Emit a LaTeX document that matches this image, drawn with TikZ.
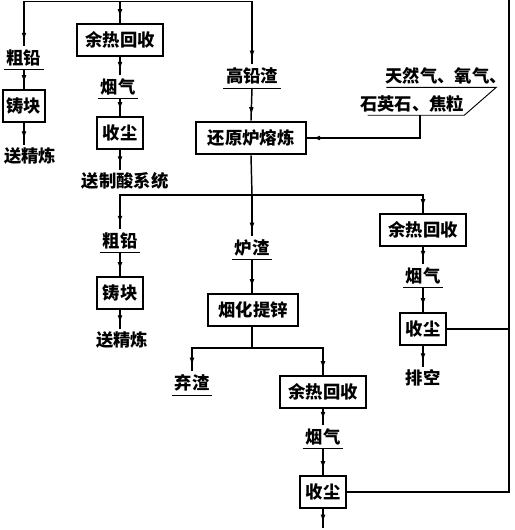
\documentclass[tikz,border=0pt]{standalone}
\usepackage{fontspec}
\setmainfont{Noto Sans CJK SC}
\usetikzlibrary{arrows.meta, positioning, decorations.markings}

\begin{document}
\begin{tikzpicture}[
    x=0.75pt, y=-0.75pt,
    font=\fontsize{13}{15}\selectfont\bfseries,
    box/.style={rectangle, draw, line width=1.7pt, minimum height=24.5pt, inner xsep=3pt, inner ysep=2pt},
    mat/.style={rectangle, inner xsep=2pt, inner ysep=2.5pt, append after command={(\tikzlastnode.south west) edge[draw, line width=0.7pt] (\tikzlastnode.south east)}},
    txt/.style={rectangle, inner xsep=0pt, inner ysep=2pt},
    flow/.style={line width=1.1pt, postaction={decorate}, decoration={markings, mark=at position -4pt with {\arrow{Latex[length=6pt,width=3.6pt]}}}},
    conn/.style={line width=1.1pt}
]
\useasboundingbox (0,0) rectangle (514,530);

% === Feed from above ===
\coordinate (feed) at (120,1.5);

% === Left branch: crude lead and off-gas ===
\node[mat] (cuA) at (24,58) {粗铅};
\node[box, minimum width=31.5pt] (zhuA) at (24,106) {铸块};
\node[txt] (jlA) at (30,156) {送精炼};
\node[box, minimum width=64pt] (yr1) at (120,40) {余热回收};
\node[mat] (yq1) at (118,87) {烟气};
\node[box, minimum width=34.5pt] (sc1) at (120,133) {收尘};
\node[txt] (zs) at (125,181) {送制酸系统};

% === Reduction furnace ===
\node[mat] (gqz) at (252,76) {高铅渣};
\node[box, minimum width=82pt] (hy) at (251,138) {还原炉熔炼};
\node[txt] (in1) at (446,76) {天然气、氧气、};
\node[txt] (in2) at (412,104) {石英石、焦粒};
\coordinate (sp1) at (252,195);

% === Products of reduction ===
\node[mat] (cuB) at (120,241) {粗铅};
\node[box, minimum width=34.5pt] (zhuB) at (120,293) {铸块};
\node[txt] (jlB) at (122,340) {送精炼};
\node[mat] (lz) at (252,248) {炉渣};
\node[box, minimum width=67.5pt] (yh) at (253,310) {烟化提锌};
\coordinate (sp2) at (252,348);
\node[box, minimum width=64pt] (yr2) at (423,230) {余热回收};
\node[mat] (yq2) at (423,276) {烟气};
\node[box, minimum width=34.5pt] (sc2) at (423,329) {收尘};
\node[txt] (pk) at (423,378) {排空};

% === Fuming ===
\node[mat] (qz) at (192,383) {弃渣};
\node[box, minimum width=64pt] (yr3) at (323,392) {余热回收};
\node[mat] (yq3) at (323,437) {烟气};
\node[box, minimum width=34.5pt] (sc3) at (323,492) {收尘};
\coordinate (out3) at (323,528);
\coordinate (rtop) at (509,0);

% === Arrows ===
% Feed to the three streams
\draw[flow] (feed) -| (cuA.north);
\draw[flow] (feed) -- (yr1.north);
\draw[flow] (feed) -| (gqz.north);

% Left column
\draw[flow] (cuA.south) -- (zhuA.north);
\draw[flow] (zhuA.south) -- (zhuA.south |- jlA.north);
\draw[flow] (yr1.south) -- (yr1.south |- yq1.north);
\draw[flow] (sc1.north |- yq1.south) -- (sc1.north);
\draw[flow] (sc1.south) -- (sc1.south |- zs.north);

% Into the reduction furnace
\draw[flow] (gqz.south) -- (hy.north);
\draw[line width=0.7pt] ([xshift=1pt]in1.south west) -- ([xshift=-8pt]in1.south east)
    -- (in2.south east) -- ([xshift=6pt]in2.south west);
\draw[flow] ([xshift=6pt]in2.south) |- (hy.east);

% Reduction furnace outputs
\draw[conn] (hy.south) -- (sp1);
\draw[flow] (sp1) -- (lz.north);
\draw[flow] (sp1) -| (cuB.north);
\draw[flow] (sp1) -| (yr2.north);
\draw[flow] (cuB.south) -- (zhuB.north);
\draw[flow] (zhuB.south) -- (zhuB.south |- jlB.north);
\draw[flow] (yr2.south) -- (yq2.north);
\draw[flow] (yq2.south) -- (sc2.north);
\draw[flow] (sc2.south) -- (pk.north);

% Fuming outputs
\draw[flow] (lz.south) -- (yh.north -| lz.south);
\draw[conn] (yh.south -| sp2) -- (sp2);
\draw[flow] (sp2) -| (qz.north);
\draw[flow] (sp2) -| (yr3.north);
\draw[flow] (yr3.south) -- (yq3.north);
\draw[flow] (yq3.south) -- (sc3.north);
\draw[flow] (sc3.south) -- (out3);

% Dust collectors to the return line
\draw[conn] (sc3.east) -| (rtop);
\draw[conn] (sc2.east) -- (sc2.east -| rtop);

\end{tikzpicture}
\end{document}
